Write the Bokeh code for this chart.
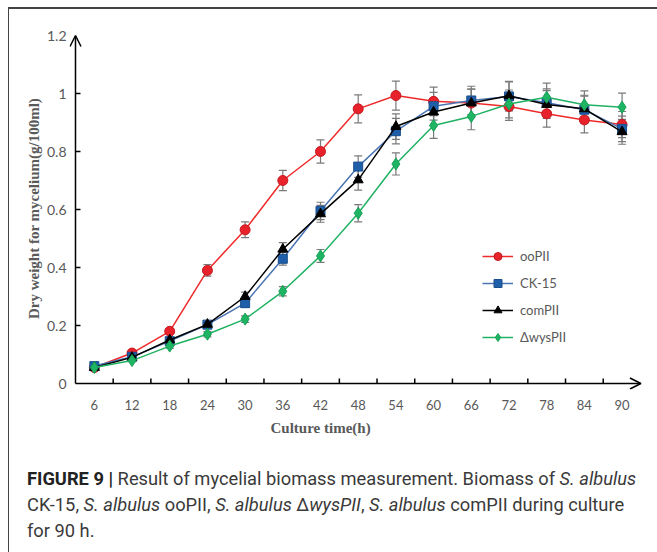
from bokeh.plotting import figure
from bokeh.models import (Range1d, FixedTicker, Whisker, ColumnDataSource, Arrow,
                          OpenHead, TeeHead, Legend, LegendItem, Div, Title)
from bokeh.layouts import column
from bokeh.embed import file_html
from bokeh.resources import INLINE

hours = [6, 12, 18, 24, 30, 36, 42, 48, 54, 60, 66, 72, 78, 84, 90]

oopii = [0.055, 0.105, 0.18, 0.39, 0.53, 0.70, 0.80, 0.947, 0.993, 0.973, 0.967, 0.955, 0.930, 0.909, 0.893]
oopii_err = [0.003, 0.005, 0.009, 0.02, 0.027, 0.035, 0.04, 0.048, 0.05, 0.049, 0.048, 0.048, 0.046, 0.045, 0.045]

ck15 = [0.06, 0.092, 0.146, 0.203, 0.277, 0.43, 0.595, 0.748, 0.870, 0.956, 0.976, 0.99, 0.968, 0.944, 0.878]
ck15_err = [0.003, 0.005, 0.007, 0.01, 0.014, 0.022, 0.03, 0.037, 0.044, 0.048, 0.049, 0.05, 0.048, 0.047, 0.044]

compii = [0.055, 0.09, 0.15, 0.204, 0.30, 0.463, 0.585, 0.702, 0.886, 0.936, 0.967, 0.992, 0.962, 0.947, 0.868]
compii_err = [0.003, 0.005, 0.008, 0.01, 0.015, 0.023, 0.029, 0.035, 0.044, 0.047, 0.048, 0.05, 0.048, 0.047, 0.043]

wyspii = [0.055, 0.079, 0.129, 0.170, 0.222, 0.318, 0.44, 0.587, 0.757, 0.890, 0.921, 0.964, 0.987, 0.961, 0.953]
wyspii_err = [0.003, 0.004, 0.007, 0.009, 0.011, 0.016, 0.022, 0.03, 0.038, 0.045, 0.046, 0.048, 0.049, 0.048, 0.048]

series_names = ["ooPII", "CK-15", "comPII", "\u0394wysPII"]
y_ticks = [0, 0.2, 0.4, 0.6, 0.8, 1, 1.2]
y_tick_labels = ["0", "0.2", "0.4", "0.6", "0.8", "1", "1.2"]
x_label = "Culture time(h)"
y_label = "Dry weight for mycelium(g/100ml)"

styles = [
    (oopii, oopii_err, "#ee2a2a", "#e8222b", "#c41a20", "circle", 10),
    (ck15, ck15_err, "#4a74b4", "#1f5fa9", "#1a4f8e", "square", 9),
    (compii, compii_err, "#000000", "#000000", "#000000", "triangle", 10),
    (wyspii, wyspii_err, "#1fb262", "#1db463", "#17a055", "diamond", 12),
]

x0, x1 = hours[0] - 3, hours[-1] + 3   # category slot edges (3 .. 93 h)
px_per_h = 6.289
px_per_unit = 290.0
pad = 6  # px of frame kept around the drawn axes so arrow heads are not clipped

p = figure(width=640, height=436,
           x_range=Range1d(x0 - pad / px_per_h, x1 + 4.6 / px_per_h),
           y_range=Range1d(-pad / px_per_unit, 1.2 + 8 / px_per_unit),
           output_backend="svg", toolbar_location=None,
           min_border_left=60, min_border_right=4, min_border_top=18, min_border_bottom=56)
p.outline_line_color = None
p.xgrid.visible = False
p.ygrid.visible = False

gray = "#595959"
# x axis (labels only; line and ticks are drawn below)
p.xaxis.ticker = FixedTicker(ticks=hours)
p.xaxis.major_tick_in = 0
p.xaxis.major_tick_out = 0
p.xaxis.minor_tick_in = 0
p.xaxis.minor_tick_out = 0
p.xaxis.axis_line_color = None
p.xaxis.major_label_text_font = "Lato"
p.xaxis.major_label_text_font_size = "13px"
p.xaxis.major_label_text_color = gray
p.xaxis.major_label_standoff = 10

# y axis (labels only)
p.yaxis.ticker = FixedTicker(ticks=y_ticks)
p.yaxis.major_label_overrides = {t: l for t, l in zip(y_ticks, y_tick_labels)}
p.yaxis.major_tick_in = 0
p.yaxis.major_tick_out = 0
p.yaxis.minor_tick_in = 0
p.yaxis.minor_tick_out = 0
p.yaxis.axis_line_color = None
p.yaxis.major_label_text_font = "Lato"
p.yaxis.major_label_text_font_size = "14px"
p.yaxis.major_label_text_color = gray
p.yaxis.major_label_standoff = 3
p.yaxis.axis_label = y_label
p.yaxis.axis_label_text_font = "Liberation Serif"
p.yaxis.axis_label_text_font_style = "bold"
p.yaxis.axis_label_text_font_size = "15px"
p.yaxis.axis_label_text_color = gray
p.yaxis.axis_label_standoff = 2

# x axis title, placed left of centre as in the original
p.add_layout(Title(text=x_label, align="left", offset=201,
                   text_font="Liberation Serif", text_font_style="bold",
                   text_font_size="15px", text_color=gray), "below")

# axis lines with arrow heads
p.add_layout(Arrow(x_start=x0, y_start=0, x_end=x1, y_end=0, line_width=1.5, line_color="black",
                   end=OpenHead(size=11, line_width=1.5, line_color="black")))
p.add_layout(Arrow(x_start=x0, y_start=0, x_end=x0, y_end=1.2, line_width=1.5, line_color="black",
                   end=OpenHead(size=11, line_width=1.5, line_color="black")))

# inward tick marks (5 px)
x_bounds = [h + 3 for h in hours[:-1]]
p.segment(x0=x_bounds, y0=[0] * len(x_bounds), x1=x_bounds, y1=[5 / px_per_unit] * len(x_bounds),
          line_color="black", line_width=1.5)
inner_y = y_ticks[1:-1]
p.segment(x0=[x0] * len(inner_y), y0=inner_y, x1=[x0 + 5 / px_per_h] * len(inner_y), y1=inner_y,
          line_color="black", line_width=1.5)

items = []
for name, (vals, errs, lc, fc, ec, marker, size) in zip(series_names, styles):
    src = ColumnDataSource(dict(x=hours, y=vals,
                                upper=[v + e for v, e in zip(vals, errs)],
                                lower=[v - e for v, e in zip(vals, errs)]))
    p.add_layout(Whisker(source=src, base="x", upper="upper", lower="lower",
                         line_color="#7a7a7a", line_width=1.2,
                         upper_head=TeeHead(size=8, line_color="#7a7a7a", line_width=1.2),
                         lower_head=TeeHead(size=8, line_color="#7a7a7a", line_width=1.2)))
    r1 = p.line("x", "y", source=src, line_color=lc, line_width=1.5)
    r2 = p.scatter("x", "y", source=src, marker=marker, size=size,
                   fill_color=fc, line_color=ec, line_width=1)
    items.append(LegendItem(label=name, renderers=[r1, r2]))

legend = Legend(items=items, location=(413, 42), glyph_width=31, glyph_height=20,
                label_height=20, spacing=7, padding=5, margin=0, label_standoff=7,
                label_text_font="Lato", label_text_font_size="13px", label_text_color=gray,
                border_line_color=None, background_fill_alpha=0)
p.add_layout(legend)

caption = Div(text=(
    "<b style='color:#222'>FIGURE 9 |</b> Result of mycelial biomass measurement. Biomass of <i>S. albulus</i><br>"
    "CK-15, <i>S. albulus</i> ooPII, <i>S. albulus</i> \u0394<i>wysPII</i>, <i>S. albulus</i> comPII during culture<br>"
    "for 90 h."),
    width=640, height=98,
    styles={"font-family": "'Roboto', sans-serif", "font-size": "18.3px",
            "line-height": "26px", "color": "#3a3a3a", "padding-left": "13px",
            "padding-top": "16px", "white-space": "nowrap"})

layout = column(p, caption, spacing=0,
                styles={"border-left": "1px solid #444", "border-top": "2px solid #444",
                        "margin-left": "8px", "margin-top": "7px"})

open("out.html", "w").write(file_html(layout, INLINE))
